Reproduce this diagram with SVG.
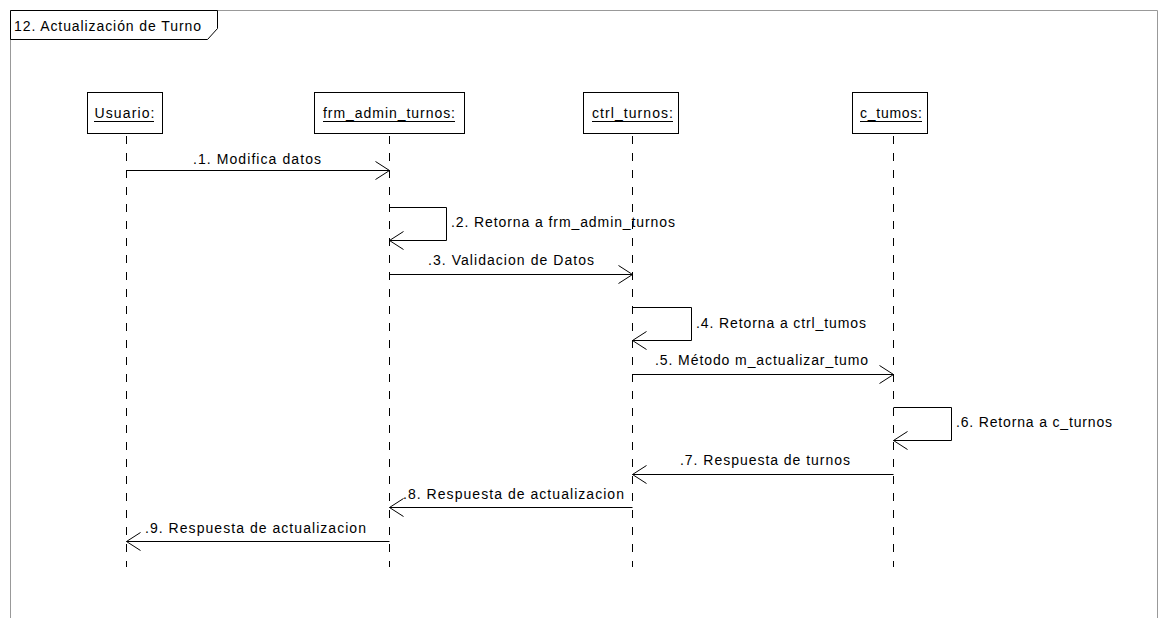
<svg xmlns="http://www.w3.org/2000/svg" width="1159" height="618" viewBox="0 0 1159 618">
<style>
text{font-family:"Liberation Sans",Arial,sans-serif;font-size:14px;fill:#000}
.box{fill:#fff;stroke:#000;stroke-width:1}
.life{stroke:#000;stroke-width:1;stroke-dasharray:8,9;fill:none}
.msg{stroke:#000;stroke-width:1;fill:none;marker-end:url(#open)}
.ul{stroke:#000;stroke-width:1}
</style>
<defs>
<marker id="open" markerUnits="userSpaceOnUse" markerWidth="18" markerHeight="22" refX="15" refY="10" orient="auto">
<path d="M1,1 L15,10 L1,19" fill="none" stroke="#000" stroke-width="1"/>
</marker>
</defs>
<rect width="1159" height="618" fill="#fff"/>
<g id="frame">
<path d="M10.5,620 L10.5,10.5 L1157.5,10.5 L1157.5,620" fill="none" stroke="#999" stroke-width="1"/>
<path d="M10.5,10.5 L217.5,10.5 L217.5,28.5 L207.5,39.5 L10.5,39.5 Z" fill="#fff" stroke="#000" stroke-width="1"/>
<text x="14" y="31" textLength="187" lengthAdjust="spacing">12. Actualización de Turno</text>
</g>
<g id="usuario">
<rect class="box" x="87.5" y="92.5" width="75" height="41"/>
<text x="124.5" y="118" text-anchor="middle" textLength="60" lengthAdjust="spacing">Usuario:</text>
<line class="ul" x1="94" y1="121.5" x2="154" y2="121.5"/>
<line class="life" x1="126.5" y1="136" x2="126.5" y2="567"/>
</g>
<g id="frm_admin_turnos">
<rect class="box" x="314.5" y="92.5" width="150" height="41"/>
<text x="389" y="118" text-anchor="middle" textLength="132" lengthAdjust="spacing">frm_admin_turnos:</text>
<line class="ul" x1="323" y1="121.5" x2="455" y2="121.5"/>
<line class="life" x1="389.5" y1="136" x2="389.5" y2="567"/>
</g>
<g id="ctrl_turnos">
<rect class="box" x="583.5" y="92.5" width="95" height="41"/>
<text x="632.5" y="118" text-anchor="middle" textLength="81" lengthAdjust="spacing">ctrl_turnos:</text>
<line class="ul" x1="592" y1="121.5" x2="673" y2="121.5"/>
<line class="life" x1="632.5" y1="136" x2="632.5" y2="567"/>
</g>
<g id="c_turnos">
<rect class="box" x="852.5" y="92.5" width="75" height="41"/>
<text x="891" y="118" text-anchor="middle" textLength="62" lengthAdjust="spacing">c_tumos:</text>
<line class="ul" x1="860" y1="121.5" x2="922" y2="121.5"/>
<line class="life" x1="893.5" y1="136" x2="893.5" y2="567"/>
</g>
<g id="connectors">
<line class="msg" x1="126.5" y1="170.5" x2="389.5" y2="170.5"/>
<polyline class="msg" points="389.5,207.5 446.5,207.5 446.5,240.5 389.5,240.5"/>
<line class="msg" x1="389.5" y1="274.5" x2="632.5" y2="274.5"/>
<polyline class="msg" points="632.5,307.5 691.5,307.5 691.5,340.5 632.5,340.5"/>
<line class="msg" x1="632.5" y1="374.5" x2="893.5" y2="374.5"/>
<polyline class="msg" points="893.5,407.5 951.5,407.5 951.5,440.5 893.5,440.5"/>
<line class="msg" x1="893.5" y1="474.5" x2="632.5" y2="474.5"/>
<line class="msg" x1="632.5" y1="507.5" x2="389.5" y2="507.5"/>
<line class="msg" x1="389.5" y1="541.5" x2="126.5" y2="541.5"/>
</g>
<g id="labels">
<text x="193" y="164" textLength="128" lengthAdjust="spacing">.1. Modifica datos</text>
<text x="451" y="227" textLength="224" lengthAdjust="spacing">.2. Retorna a frm_admin_turnos</text>
<text x="428" y="265" textLength="166" lengthAdjust="spacing">.3. Validacion de Datos</text>
<text x="696" y="328" textLength="170" lengthAdjust="spacing">.4. Retorna a ctrl_tumos</text>
<text x="655" y="365" textLength="213" lengthAdjust="spacing">.5. Método m_actualizar_tumo</text>
<text x="956" y="427" textLength="156" lengthAdjust="spacing">.6. Retorna a c_turnos</text>
<text x="680" y="465" textLength="170" lengthAdjust="spacing">.7. Respuesta de turnos</text>
<text x="403" y="499" textLength="221" lengthAdjust="spacing">.8. Respuesta de actualizacion</text>
<text x="145" y="533" textLength="221" lengthAdjust="spacing">.9. Respuesta de actualizacion</text>
</g>
</svg>
